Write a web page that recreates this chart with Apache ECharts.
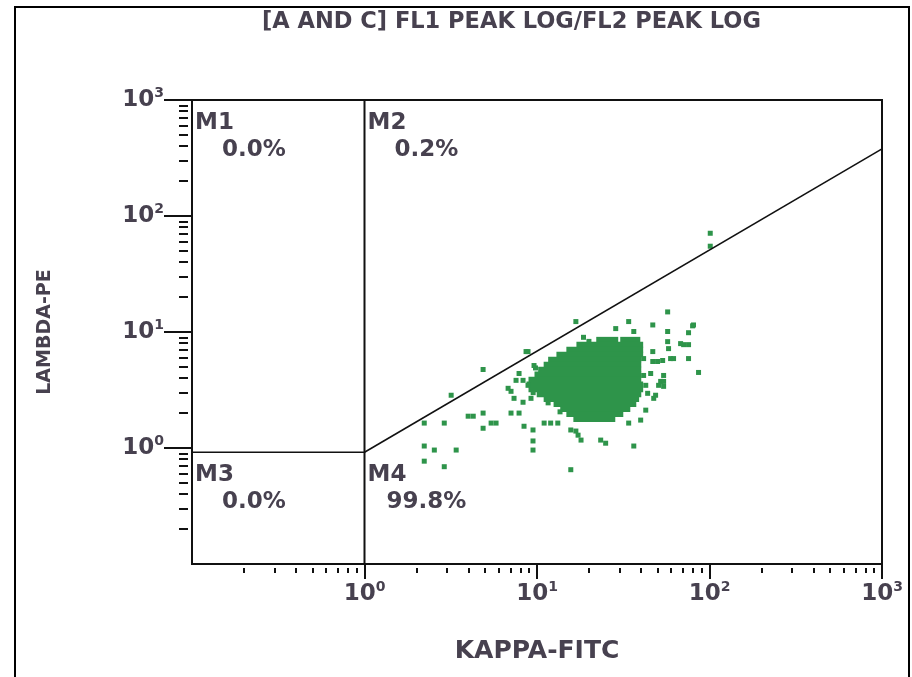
<!DOCTYPE html>
<html>
<head>
<meta charset="utf-8">
<script src="https://cdn.jsdelivr.net/npm/echarts@6/dist/echarts.min.js"></script>
<style>
  html, body { margin: 0; padding: 0; background: #ffffff; }
  #chart { width: 912px; height: 677px; }
</style>
</head>
<body>
<div id="chart"></div>
<script>
// ---------- data ----------
const chartTitle = '[A AND C] FL1 PEAK LOG/FL2 PEAK LOG';
const xName = 'KAPPA-FITC';
const yName = 'LAMBDA-PE';

const axisMin = 0.1;
const axisMax = 1000;
const majorTicks = [1, 10, 100, 1000];
const minorTicks = [0.2, 0.3, 0.4, 0.5, 0.6, 0.7, 0.8, 0.9,
                    2, 3, 4, 5, 6, 7, 8, 9,
                    20, 30, 40, 50, 60, 70, 80, 90,
                    200, 300, 400, 500, 600, 700, 800, 900];

// gates
const gateX = 1;        // vertical gate (FL1)
const gateY = 0.92;     // horizontal gate left of vertical gate
const gateVertical = [[gateX, 0.1], [gateX, 1000]];
const gateHorizontal = [[0.1, gateY], [gateX, gateY]];
const gateDiagonal = [[gateX, gateY], [1000, 379]];

// quadrant regions
const quadNames = ['M1', 'M2', 'M3', 'M4'];
const quadPcts = ['0.0%', '0.2%', '0.0%', '99.8%'];
const quadCornerX = [0.1, 1, 0.1, 1];
const quadCornerY = [1000, 1000, 0.92, 0.92];

// dense core of the population: rows [xStart, y, xEnd]
const coreRows = [
  [22.8, 8.59, 28.6], [31.4, 8.59, 38.4],
  [17.5, 7.78, 39.9],
  [15.3, 7.05, 39.9],
  [13.4, 6.39, 39.9],
  [12.0, 5.79, 38.9],
  [11.3, 5.24, 38.9],
  [10.5, 4.75, 38.9],
  [10.0, 4.31, 38.9],
  [9.23, 3.90, 38.9],
  [8.99, 3.54, 39.9],
  [9.23, 3.20, 39.9],
  [10.3, 2.90, 38.9],
  [11.3, 2.63, 37.8],
  [12.9, 2.38, 36.4],
  [14.1, 2.16, 33.6],
  [15.3, 1.96, 30.6],
  [16.8, 1.77, 27.5]
];

// scattered single events [FL1, FL2]
const events = [
  [101, 71.0], [101, 54.9], [57.2, 14.9], [16.8, 12.3], [34.0, 12.3], [46.9, 11.5],
  [80.8, 11.5], [36.4, 10.1], [57.2, 10.1], [75.6, 9.86], [57.2, 8.26], [70.8, 7.78],
  [75.6, 7.78], [46.9, 6.78], [8.87, 6.78], [75.6, 5.90], [59.5, 5.90], [4.87, 4.75],
  [86.4, 4.48], [3.18, 2.85], [7.07, 3.08], [3.99, 1.88], [4.27, 1.88], [4.87, 2.0],
  [7.07, 2.0], [2.22, 1.64], [2.90, 1.64], [4.87, 1.48], [5.42, 1.64], [5.79, 1.64],
  [8.41, 1.54], [9.48, 1.43], [11.0, 1.64], [13.2, 1.64], [2.22, 1.04], [2.54, 0.96],
  [3.40, 0.96], [9.48, 1.15], [9.48, 0.96], [15.7, 1.43], [17.3, 1.29], [18.0, 1.17],
  [23.4, 1.17], [25.0, 1.10], [36.4, 1.04], [2.22, 0.77], [2.90, 0.69], [15.7, 0.65],
  [8.30, 2.48], [42.7, 2.12], [39.9, 1.74], [34.0, 1.64], [48.7, 2.85], [52.1, 3.75],
  [41.5, 5.90], [46.9, 5.57], [50.0, 5.57], [53.5, 5.68], [41.5, 4.22], [45.6, 4.39],
  [42.7, 3.47], [50.7, 3.47], [43.8, 2.96], [47.5, 2.68], [54.2, 4.22], [54.2, 3.75],
  [54.2, 3.40], [79.8, 11.3], [68.0, 7.94], [57.9, 7.19], [61.9, 5.90], [8.64, 6.78],
  [9.61, 5.14], [7.87, 4.39], [7.56, 3.83], [8.30, 3.83], [8.87, 3.47], [6.80, 3.27],
  [7.36, 2.68], [9.23, 2.68], [7.87, 2.0], [12.0, 1.64], [16.8, 1.40], [28.6, 10.7],
  [18.6, 9.0], [20.0, 8.3], [9.8, 4.9], [9.5, 3.0], [11.6, 2.45], [13.6, 2.05]
];

// ---------- styling ----------
const FONT = 'DejaVu Sans';
const TEXT = '#47414f';
const GREEN = '#2e944a';
const INK = '#111111';

function decadeLabel(v) {
  const e = Math.round(Math.log10(v));
  if (e < 0) return '';
  return '{b|10}{s|' + e + '}';
}
const labelRich = {
  b: { fontFamily: FONT, fontSize: 23, fontWeight: 'bold', color: TEXT, lineHeight: 28 },
  s: { fontFamily: FONT, fontSize: 14, fontWeight: 'bold', color: TEXT, verticalAlign: 'top' }
};

const chart = echarts.init(document.getElementById('chart'));

const option = {
  backgroundColor: '#ffffff',
  animation: false,
  title: {
    text: chartTitle,
    left: 262,
    top: 11,
    padding: 0,
    textStyle: { fontFamily: FONT, fontSize: 22.5, fontWeight: 'bold', color: TEXT }
  },
  graphic: [{
    type: 'rect',
    silent: true,
    z: -10,
    shape: { x: 15, y: 7, width: 894, height: 700 },
    style: { fill: 'none', stroke: '#000', lineWidth: 2 }
  }],
  grid: {
    left: 192, right: 30, top: 100, bottom: 113,
    show: true, borderColor: INK, borderWidth: 2, backgroundColor: 'transparent'
  },
  xAxis: [{
    type: 'log', logBase: 10, min: axisMin, max: axisMax, position: 'bottom',
    name: xName, nameLocation: 'middle', nameGap: 75,
    nameTextStyle: { fontFamily: FONT, fontSize: 25, fontWeight: 'bold', color: TEXT },
    axisLine: { show: false, onZero: false },
    axisTick: { show: true, customValues: majorTicks, length: 15, lineStyle: { color: INK, width: 2 } },
    axisLabel: {
      customValues: majorTicks, formatter: decadeLabel, margin: 16, rich: labelRich
    },
    splitLine: { show: false }, minorTick: { show: false }
  }, {
    type: 'log', logBase: 10, min: axisMin, max: axisMax, position: 'bottom', offset: 4,
    axisLine: { show: false, onZero: false },
    axisTick: { show: true, customValues: minorTicks, length: 5, lineStyle: { color: INK, width: 2 } },
    axisLabel: { show: false },
    splitLine: { show: false }
  }],
  yAxis: [{
    type: 'log', logBase: 10, min: axisMin, max: axisMax, position: 'left',
    name: yName, nameLocation: 'middle', nameGap: 137,
    nameTextStyle: { fontFamily: FONT, fontSize: 19, fontWeight: 'bold', color: TEXT },
    axisLine: { show: false, onZero: false },
    axisTick: { show: true, customValues: majorTicks, length: 28, lineStyle: { color: INK, width: 2 } },
    axisLabel: {
      customValues: majorTicks, formatter: decadeLabel, margin: 28, rich: labelRich
    },
    splitLine: { show: false }, minorTick: { show: false }
  }, {
    type: 'log', logBase: 10, min: axisMin, max: axisMax, position: 'left', offset: 4,
    axisLine: { show: false, onZero: false },
    axisTick: { show: true, customValues: minorTicks, length: 9, lineStyle: { color: INK, width: 2 } },
    axisLabel: { show: false },
    splitLine: { show: false }
  }],
  series: [
    {
      name: 'core',
      type: 'custom',
      xAxisIndex: 0, yAxisIndex: 0,
      data: coreRows,
      renderItem: function (params, api) {
        const a = api.coord([api.value(0), api.value(1)]);
        const b = api.coord([api.value(2), api.value(1)]);
        return {
          type: 'rect',
          shape: { x: a[0] - 2.5, y: a[1] - 2.8, width: b[0] - a[0] + 5, height: 5.6 },
          style: { fill: GREEN }
        };
      },
      z: 2
    },
    {
      name: 'events',
      type: 'scatter',
      xAxisIndex: 0, yAxisIndex: 0,
      symbol: 'rect', symbolSize: [5, 5],
      itemStyle: { color: GREEN, opacity: 1 },
      data: events,
      z: 2
    },
    {
      type: 'line', xAxisIndex: 0, yAxisIndex: 0, data: gateVertical,
      symbol: 'none', lineStyle: { color: INK, width: 2 }, z: 3, silent: true
    },
    {
      type: 'line', xAxisIndex: 0, yAxisIndex: 0, data: gateHorizontal,
      symbol: 'none', lineStyle: { color: INK, width: 1.6 }, z: 3, silent: true
    },
    {
      type: 'line', xAxisIndex: 0, yAxisIndex: 0, data: gateDiagonal,
      symbol: 'none', lineStyle: { color: INK, width: 1.6 }, z: 3, silent: true
    },
    {
      name: 'regions',
      type: 'custom',
      xAxisIndex: 0, yAxisIndex: 0,
      data: quadCornerX.map(function (x, i) { return [x, quadCornerY[i]]; }),
      renderItem: function (params, api) {
        const i = params.dataIndex;
        const p = api.coord([api.value(0), api.value(1)]);
        const font = { fontFamily: FONT, fontSize: 23, fontWeight: 'bold', fill: TEXT };
        return {
          type: 'group',
          children: [
            { type: 'text', x: p[0] + 3, y: p[1] + 23,
              style: Object.assign({ text: quadNames[i], align: 'left', verticalAlign: 'middle' }, font) },
            { type: 'text', x: p[0] + 62, y: p[1] + 50,
              style: Object.assign({ text: quadPcts[i], align: 'center', verticalAlign: 'middle' }, font) }
          ]
        };
      },
      z: 4
    }
  ]
};

chart.setOption(option);
</script>
</body>
</html>
